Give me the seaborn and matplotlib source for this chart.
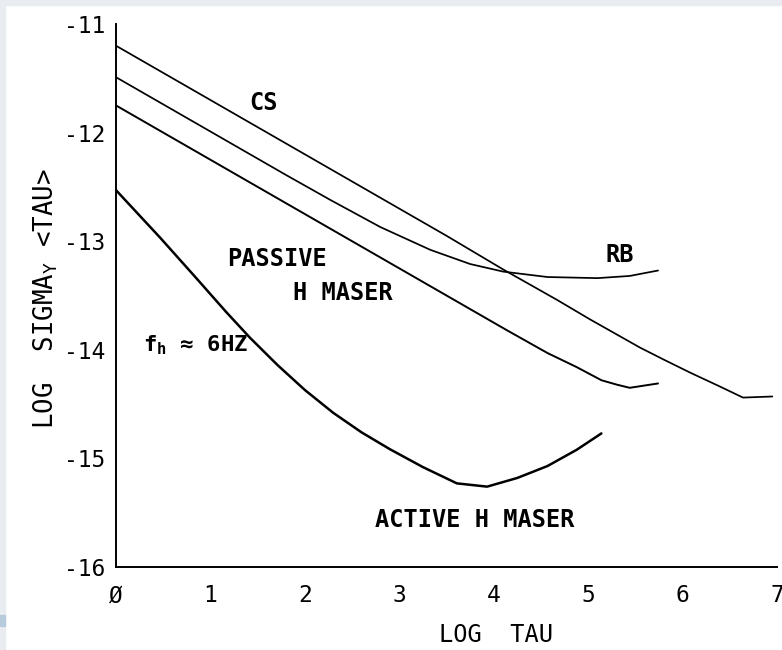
import numpy as np
import pandas as pd
import matplotlib
matplotlib.use("Agg")
import matplotlib.pyplot as plt
import seaborn as sns
from matplotlib.patches import Rectangle

# ---- data ----
cs_x = [0.0, 1.0, 2.0, 2.8, 3.5, 4.1, 4.67, 5.02, 5.55, 5.8, 6.08, 6.4, 6.64, 6.95]
cs_y = [-11.20, -11.70, -12.20, -12.60, -12.95, -13.26, -13.54, -13.72, -13.98, -14.09, -14.21, -14.34, -14.44, -14.43]

rb_x = [0.0, 1.0, 1.8, 2.27, 2.8, 3.33, 3.75, 4.1, 4.57, 5.1, 5.44, 5.74]
rb_y = [-11.49, -11.99, -12.39, -12.62, -12.87, -13.08, -13.21, -13.28, -13.33, -13.34, -13.32, -13.27]

ph_x = [0.0, 1.0, 2.0, 3.0, 4.14, 4.57, 4.88, 5.14, 5.3, 5.44, 5.74]
ph_y = [-11.75, -12.25, -12.75, -13.25, -13.82, -14.03, -14.16, -14.28, -14.32, -14.35, -14.31]

ah_x = [0.0, 0.47, 0.85, 1.17, 1.42, 1.71, 2.0, 2.3, 2.6, 2.9, 3.25, 3.61, 3.93, 4.25, 4.57, 4.88, 5.14]
ah_y = [-12.53, -12.97, -13.34, -13.655, -13.89, -14.14, -14.37, -14.58, -14.76, -14.915, -15.08, -15.23, -15.26, -15.18, -15.07, -14.92, -14.77]

x_ticks = [0, 1, 2, 3, 4, 5, 6, 7]
x_tick_labels = ["Ø", "1", "2", "3", "4", "5", "6", "7"]
y_ticks = [-16, -15, -14, -13, -12, -11]
y_tick_labels = ["-16", "-15", "-14", "-13", "-12", "-11"]

df = pd.concat([
    pd.DataFrame({"x": cs_x, "y": cs_y, "s": "CS"}),
    pd.DataFrame({"x": rb_x, "y": rb_y, "s": "RB"}),
    pd.DataFrame({"x": ph_x, "y": ph_y, "s": "PH"}),
    pd.DataFrame({"x": ah_x, "y": ah_y, "s": "AH"}),
], ignore_index=True)

sns.set_style("white")
plt.rcParams["font.family"] = ["DejaVu Sans Mono", "DejaVu Sans"]
plt.rcParams["text.color"] = "black"
plt.rcParams["axes.labelcolor"] = "black"
plt.rcParams["xtick.color"] = "black"
plt.rcParams["ytick.color"] = "black"

fig = plt.figure(figsize=(7.82, 6.50), dpi=100)
fig.patch.set_facecolor("white")
ax = fig.add_axes([116/782, 1 - 567/650, (777 - 116)/782, (567 - 24)/650])

for name, lw in [("CS", 1.25), ("RB", 1.25), ("PH", 1.4), ("AH", 1.8)]:
    sub = df[df["s"] == name]
    sns.lineplot(data=sub, x="x", y="y", ax=ax, color="black", lw=lw,
                 sort=False, estimator=None, legend=False)

ax.set_xlim(0, 7)
ax.set_ylim(-16, -11)
ax.set_xticks(x_ticks)
ax.set_xticklabels(x_tick_labels, fontsize=16.5)
ax.set_yticks(y_ticks)
ax.set_yticklabels(y_tick_labels, fontsize=16.5)
ax.tick_params(axis="both", direction="inout", length=7, width=1.3, color="black")
ax.tick_params(axis="x", pad=9)
ax.tick_params(axis="y", pad=4)
for sp in ["top", "right"]:
    ax.spines[sp].set_visible(False)
for sp in ["left", "bottom"]:
    ax.spines[sp].set_color("black")
    ax.spines[sp].set_linewidth(1.4)
ax.set_facecolor("none")

ax.set_xlabel("LOG  TAU", fontsize=17)
ax.xaxis.set_label_coords(0.575, -0.126)
ax.set_ylabel(r"LOG  SIGMA$_\mathregular{Y}$ <TAU>", fontsize=18.5)
ax.yaxis.set_label_coords(-0.107, 0.494)
ax.xaxis.label.set_va("center")
ax.yaxis.label.set_va("center")

kw = dict(fontsize=17, fontweight="bold", ha="center", va="center")
ax.text(1.56, -11.73, "CS", **kw)
ax.text(1.71, -13.16, "PASSIVE", **kw)
ax.text(2.40, -13.48, "H MASER", **kw)
ax.text(5.33, -13.13, "RB", **kw)
ax.text(3.80, -15.57, "ACTIVE H MASER", **kw)
ax.text(0.29, -13.96, r"f$_\mathregular{h}$ ≈ 6HZ", fontsize=16, fontweight="bold",
        ha="left", va="center")

# scanned page edges
fig.patches.append(Rectangle((0, 1 - 5/650), 1, 5/650, transform=fig.transFigure,
                             color="#e9edf2", zorder=0))
fig.patches.append(Rectangle((0, 0), 5/782, 1, transform=fig.transFigure,
                             color="#e9edf2", zorder=0))
fig.patches.append(Rectangle((0, 1 - 626/650), 5/782, 11/650, transform=fig.transFigure,
                             color="#b8cbdc", zorder=0))

fig.savefig("out.png", dpi=100)
